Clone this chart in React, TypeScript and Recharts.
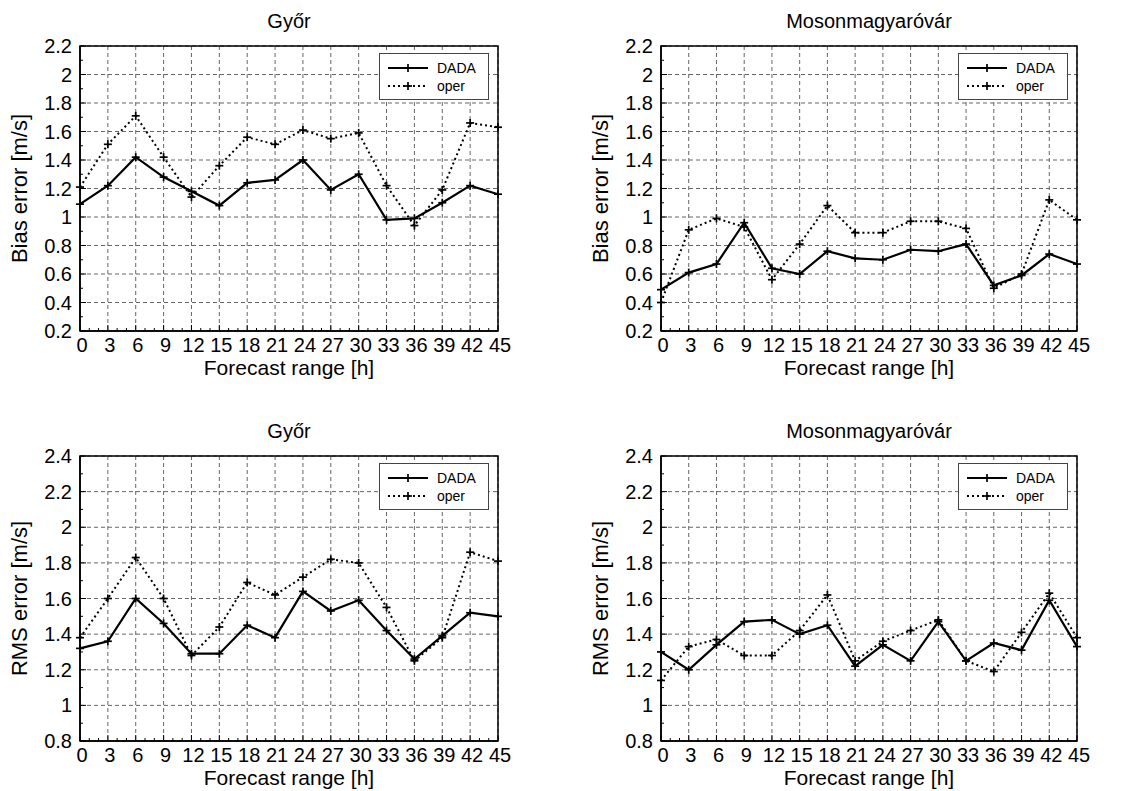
import React from 'react'
import { LineChart, Line, XAxis, YAxis, CartesianGrid, ReferenceArea } from 'recharts'

// forecast range [h]
const hours = [0, 3, 6, 9, 12, 15, 18, 21, 24, 27, 30, 33, 36, 39, 42, 45]

// Győr bias
const gyorBiasDada = [1.09, 1.22, 1.42, 1.28, 1.18, 1.08, 1.24, 1.26, 1.4, 1.19, 1.3, 0.98, 0.99, 1.1, 1.22, 1.16]
const gyorBiasOper = [1.21, 1.51, 1.71, 1.42, 1.14, 1.36, 1.56, 1.51, 1.61, 1.55, 1.59, 1.22, 0.94, 1.19, 1.66, 1.63]

// Mosonmagyaróvár bias
const mosonBiasDada = [0.49, 0.61, 0.67, 0.96, 0.64, 0.6, 0.76, 0.71, 0.7, 0.77, 0.76, 0.81, 0.52, 0.59, 0.74, 0.67]
const mosonBiasOper = [0.4, 0.91, 0.99, 0.93, 0.56, 0.81, 1.08, 0.89, 0.89, 0.97, 0.97, 0.92, 0.5, 0.6, 1.12, 0.98]

// Győr RMS
const gyorRmsDada = [1.32, 1.36, 1.6, 1.46, 1.29, 1.29, 1.45, 1.38, 1.64, 1.53, 1.59, 1.42, 1.26, 1.39, 1.52, 1.5]
const gyorRmsOper = [1.38, 1.6, 1.83, 1.6, 1.28, 1.44, 1.69, 1.62, 1.72, 1.82, 1.8, 1.55, 1.25, 1.38, 1.86, 1.81]

// Mosonmagyaróvár RMS
const mosonRmsDada = [1.3, 1.2, 1.34, 1.47, 1.48, 1.4, 1.45, 1.22, 1.34, 1.25, 1.47, 1.25, 1.35, 1.31, 1.59, 1.33]
const mosonRmsOper = [1.14, 1.33, 1.37, 1.28, 1.28, 1.42, 1.62, 1.25, 1.36, 1.42, 1.48, 1.25, 1.19, 1.41, 1.63, 1.38]

const biasTicks = [0.2, 0.4, 0.6, 0.8, 1, 1.2, 1.4, 1.6, 1.8, 2, 2.2]
const rmsTicks = [0.8, 1, 1.2, 1.4, 1.6, 1.8, 2, 2.2, 2.4]

const FONT = '"Liberation Sans", Arial, Helvetica, sans-serif'

// minor ticks: every hour on x, every 0.1 on y
const xMinorTicks = Array.from({ length: 46 }, (_, i) => i)
const withHalfSteps = (ticks: number[]) =>
  ticks.flatMap((t, i) => (i === 0 ? [t] : [Math.round((ticks[i - 1] + t) * 50) / 100, t]))

const isMultiple = (v: number, step: number) => Math.abs(v / step - Math.round(v / step)) < 1e-6

const buildData = (dada: number[], oper: number[]) =>
  hours.map((h, i) => ({ h, dada: dada[i], oper: oper[i] }))

const PlusDot = (props: any) => {
  const { cx, cy, index } = props
  if (cx == null || cy == null) return <g key={`d-${index}`} />
  return (
    <g key={`d-${index}`}>
      <line x1={cx - 4} x2={cx + 4} y1={cy} y2={cy} stroke="#000" strokeWidth={1.7} />
      <line x1={cx} x2={cx} y1={cy - 4} y2={cy + 4} stroke="#000" strokeWidth={1.7} />
    </g>
  )
}

const XTick = (props: any) => {
  const { x, y, payload } = props
  const major = isMultiple(payload.value, 3)
  return (
    <g>
      <line x1={x} x2={x} y1={y} y2={y - (major ? 6 : 3)} stroke="#000" strokeWidth={1} />
      {major && (
        <text x={x + 2} y={y + 21} textAnchor="middle" fontSize={20} fontFamily={FONT} fill="#000">
          {payload.value}
        </text>
      )}
    </g>
  )
}

const YTick = (props: any) => {
  const { x, y, payload } = props
  const major = isMultiple(payload.value, 0.2)
  return (
    <g>
      <line x1={x} x2={x + (major ? 6 : 3)} y1={y} y2={y} stroke="#000" strokeWidth={1} />
      {major && (
        <text x={x - 8} y={y + 7} textAnchor="end" fontSize={20} fontFamily={FONT} fill="#000">
          {String(Math.round(payload.value * 10) / 10)}
        </text>
      )}
    </g>
  )
}

function LegendBox({ left, top }: { left: number, top: number }) {
  const row = (label: string, dash: string | undefined, y: number) => (
    <g>
      <line x1={9} x2={49} y1={y} y2={y} stroke="#000" strokeWidth={2} strokeDasharray={dash} />
      <line x1={25} x2={33} y1={y} y2={y} stroke="#000" strokeWidth={1.7} />
      <line x1={29} x2={29} y1={y - 4} y2={y + 4} stroke="#000" strokeWidth={1.7} />
      <text x={58} y={y + 5} fontSize={14} fontFamily={FONT} fill="#000">{label}</text>
    </g>
  )
  return (
    <svg
      width={110}
      height={47}
      style={{ position: 'absolute', left, top, background: '#fff' }}
    >
      <rect x={0.5} y={0.5} width={109} height={46} fill="#fff" stroke="#444" strokeWidth={1} />
      {row('DADA', undefined, 15)}
      {row('oper', '2 3', 33)}
    </svg>
  )
}

interface PanelProps {
  left: number
  top: number
  height: number
  plotLeft: number
  plotRight: number
  plotTop: number
  plotBottom: number
  title: string
  yLabel: string
  yTicks: number[]
  dada: number[]
  oper: number[]
  yLabelX: number
}

function Panel(p: PanelProps) {
  const data = buildData(p.dada, p.oper)
  const width = 574
  const yDomain = [p.yTicks[0], p.yTicks[p.yTicks.length - 1]]
  const titleCenter = (p.plotLeft + p.plotRight) / 2
  return (
    <div style={{ position: 'absolute', left: p.left, top: p.top, width, height: p.height }}>
      <div
        style={{
          position: 'absolute',
          left: titleCenter - 150,
          width: 300,
          top: p.plotTop - 37,
          textAlign: 'center',
          fontFamily: FONT,
          fontSize: 20,
          lineHeight: '24px',
        }}
      >
        {p.title}
      </div>
      <LineChart
        width={width}
        height={p.height}
        data={data}
        margin={{ top: p.plotTop, right: width - p.plotRight, left: 0, bottom: 0 }}
      >
        <CartesianGrid
          stroke="#666"
          strokeDasharray="4 3"
          strokeWidth={1}
          horizontalValues={p.yTicks}
          verticalValues={hours}
        />
        <XAxis
          dataKey="h"
          type="number"
          domain={[0, 45]}
          ticks={xMinorTicks}
          interval={0}
          tickSize={0}
          tickMargin={0}
          height={p.height - p.plotBottom}
          axisLine={{ stroke: '#000', strokeWidth: 1.5 }}
          tick={XTick}
          label={{
            value: 'Forecast range [h]',
            position: 'insideTop',
            offset: 29,
            fontSize: 21,
            fontFamily: FONT,
            fill: '#000',
          }}
        />
        <YAxis
          type="number"
          domain={yDomain}
          ticks={withHalfSteps(p.yTicks)}
          interval={0}
          tickSize={0}
          tickMargin={0}
          width={p.plotLeft}
          allowDataOverflow
          axisLine={{ stroke: '#000', strokeWidth: 1.5 }}
          tick={YTick}
          label={{
            value: p.yLabel,
            angle: -90,
            position: 'insideLeft',
            offset: p.yLabelX - 1,
            fontSize: 22,
            fontFamily: FONT,
            fill: '#000',
            style: { textAnchor: 'middle' },
          }}
        />
        <ReferenceArea
          x1={0}
          x2={45}
          y1={yDomain[0]}
          y2={yDomain[1]}
          fill="none"
          stroke="#000"
          strokeWidth={1.5}
          fillOpacity={0}
        />
        <Line
          dataKey="oper"
          stroke="#000"
          strokeWidth={2}
          strokeDasharray="2 3"
          dot={PlusDot}
          activeDot={false}
          isAnimationActive={false}
        />
        <Line
          dataKey="dada"
          stroke="#000"
          strokeWidth={2.2}
          dot={PlusDot}
          activeDot={false}
          isAnimationActive={false}
        />
      </LineChart>
      <LegendBox left={p.plotRight - 119} top={p.plotTop + 7} />
    </div>
  )
}

export default function App() {
  return (
    <div
      style={{
        position: 'absolute',
        left: 0,
        top: 0,
        width: 1148,
        height: 791,
        background: '#fff',
        overflow: 'hidden',
      }}
    >
      <Panel
        left={0} top={0} height={395}
        plotLeft={80} plotRight={498} plotTop={46} plotBottom={331}
        title="Győr" yLabel="Bias error [m/s]" yTicks={biasTicks}
        dada={gyorBiasDada} oper={gyorBiasOper} yLabelX={20}
      />
      <Panel
        left={574} top={0} height={395}
        plotLeft={87} plotRight={503} plotTop={46} plotBottom={331}
        title="Mosonmagyaróvár" yLabel="Bias error [m/s]" yTicks={biasTicks}
        dada={mosonBiasDada} oper={mosonBiasOper} yLabelX={27}
      />
      <Panel
        left={0} top={395} height={396}
        plotLeft={80} plotRight={498} plotTop={61} plotBottom={346}
        title="Győr" yLabel="RMS error [m/s]" yTicks={rmsTicks}
        dada={gyorRmsDada} oper={gyorRmsOper} yLabelX={20}
      />
      <Panel
        left={574} top={395} height={396}
        plotLeft={87} plotRight={503} plotTop={61} plotBottom={346}
        title="Mosonmagyaróvár" yLabel="RMS error [m/s]" yTicks={rmsTicks}
        dada={mosonRmsDada} oper={mosonRmsOper} yLabelX={27}
      />
    </div>
  )
}
